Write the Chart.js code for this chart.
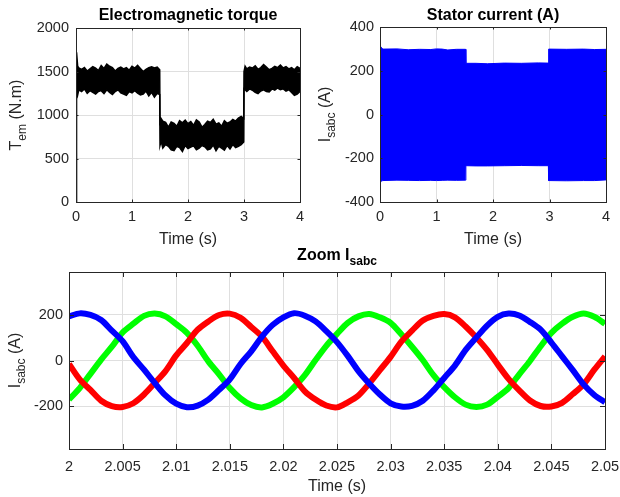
<!DOCTYPE html>
<html>
<head>
<meta charset="utf-8">
<script src="https://cdn.jsdelivr.net/npm/chart.js@4.4.0/dist/chart.umd.min.js"></script>
<style>
  body { margin: 0; background: #fff; width: 620px; height: 497px; position: relative; overflow: hidden; }
  canvas { position: absolute; }
</style>
</head>
<body>
<canvas id="torque-chart" width="310" height="250" style="left:0;top:0"></canvas>
<canvas id="current-chart" width="310" height="250" style="left:310px;top:0"></canvas>
<canvas id="zoom-chart" width="620" height="257" style="left:0;top:240px"></canvas>
<script>
// torque envelope (upper / lower edge of the noisy trace), N.m
const torqueTime = [0, 0.01, 0.03, 0.05, 0.1, 0.15, 0.2, 0.25, 0.3, 0.35, 0.4, 0.45, 0.5, 0.55, 0.6, 0.65, 0.7, 0.75, 0.8, 0.85, 0.9, 0.95, 1.0, 1.05, 1.1, 1.15, 1.2, 1.25, 1.3, 1.35, 1.4, 1.45, 1.495,
  1.5, 1.52, 1.55, 1.6, 1.65, 1.7, 1.75, 1.8, 1.85, 1.9, 1.95, 2.0, 2.05, 2.1, 2.15, 2.2, 2.25, 2.3, 2.35, 2.4, 2.45, 2.5, 2.55, 2.6, 2.65, 2.7, 2.75, 2.8, 2.85, 2.9, 2.95, 2.995,
  3.0, 3.02, 3.05, 3.1, 3.15, 3.2, 3.25, 3.3, 3.35, 3.4, 3.45, 3.5, 3.55, 3.6, 3.65, 3.7, 3.75, 3.8, 3.85, 3.9, 3.95, 4.0];
const torqueUpper = [1400, 1720, 1560, 1540, 1525, 1545, 1505, 1530, 1555, 1540, 1510, 1570, 1535, 1585, 1560, 1545, 1505, 1535, 1550, 1530, 1545, 1515, 1560, 1540, 1570, 1535, 1500, 1525, 1545, 1555, 1540, 1550, 1520,
  880, 960, 930, 915, 860, 920, 905, 870, 935, 910, 940, 900, 925, 880, 945, 920, 860, 890, 930, 915, 950, 895, 910, 870, 935, 905, 920, 950, 930, 965, 985, 960,
  1500, 1560, 1530, 1550, 1540, 1565, 1525, 1545, 1580, 1550, 1520, 1535, 1560, 1545, 1575, 1540, 1555, 1530, 1545, 1520, 1555, 1535];
const torqueLower = [0, 1300, 1230, 1290, 1270, 1300, 1250, 1280, 1260, 1240, 1270, 1280, 1245, 1290, 1260, 1235, 1270, 1290, 1255, 1240, 1225, 1270, 1255, 1280, 1250, 1230, 1240, 1275, 1220, 1260, 1205, 1250, 1235,
  650, 700, 620, 660, 640, 600, 590, 640, 625, 580, 650, 615, 630, 645, 600, 620, 650, 635, 600, 610, 655, 590, 640, 620, 595, 650, 610, 660, 625, 640, 660, 690,
  1300, 1290, 1270, 1300, 1285, 1260, 1245, 1275, 1290, 1270, 1265, 1300, 1285, 1310, 1290, 1300, 1275, 1290, 1260, 1225, 1240, 1270];

// stator current envelope over 0..4 s, A
const currentTime = [0, 0.01, 0.05, 0.3, 0.5, 0.7, 0.9, 1.0, 1.1, 1.2, 1.35, 1.515, 1.52, 1.7, 1.9, 2.2, 2.5, 2.8, 2.98, 2.985, 3.3, 3.6, 3.8, 4.0];
const currentUpper = [313, 310, 299, 300, 296, 298, 297, 300, 299, 295, 298, 298, 234, 234, 232, 235, 234, 236, 235, 299, 298, 299, 297, 298];
const currentLower = [-310, -306, -302, -300, -301, -302, -301, -302, -301, -300, -301, -300, -234, -235, -235, -234, -233, -234, -234, -302, -303, -302, -302, -299];

// zoom 2.00 .. 2.05 s, three phases
const zoomTime = [2.000, 2.001, 2.002, 2.003, 2.004, 2.005, 2.006, 2.007, 2.008, 2.009, 2.010, 2.011, 2.012, 2.013, 2.014, 2.015, 2.016, 2.017, 2.018, 2.019,
  2.020, 2.021, 2.022, 2.023, 2.024, 2.025, 2.026, 2.027, 2.028, 2.029, 2.030, 2.031, 2.032, 2.033, 2.034, 2.035, 2.036, 2.037, 2.038, 2.039,
  2.040, 2.041, 2.042, 2.043, 2.044, 2.045, 2.046, 2.047, 2.048, 2.049, 2.050];
const phaseA = [-15, -82, -128, -175, -198, -202, -186, -148, -98, -46, 22, 76, 134, 170, 198, 204, 186, 146, 104, 40,
  -22, -76, -134, -170, -196, -204, -182, -152, -100, -42, 16, 82, 130, 174, 194, 202, 188, 148, 100, 46,
  -18, -80, -130, -174, -198, -200, -184, -146, -104, -40, 18];
const phaseB = [-170, -120, -58, 4, 60, 122, 160, 194, 204, 192, 158, 120, 64, -4, -60, -120, -165, -194, -204, -188,
  -160, -116, -64, 2, 64, 116, 164, 192, 202, 188, 164, 114, 60, 2, -64, -116, -160, -192, -202, -192,
  -158, -120, -60, -2, 62, 120, 160, 190, 204, 190, 160];
const phaseC = [192, 205, 198, 176, 130, 84, 15, -40, -98, -152, -188, -203, -196, -170, -128, -82, -15, 40, 104, 155,
  188, 206, 195, 170, 128, 80, 20, -46, -100, -148, -186, -200, -197, -175, -130, -76, -22, 46, 100, 152,
  190, 204, 196, 168, 134, 78, 18, -42, -104, -150, -182];

// ticks
const fullTicksX = [0, 1, 2, 3, 4];
const fullLabelsX = ['0', '1', '2', '3', '4'];
const torqueTicksY = [0, 500, 1000, 1500, 2000];
const torqueLabelsY = ['0', '500', '1000', '1500', '2000'];
const currentTicksY = [-400, -200, 0, 200, 400];
const currentLabelsY = ['-400', '-200', '0', '200', '400'];
const zoomTicksX = [2, 2.005, 2.01, 2.015, 2.02, 2.025, 2.03, 2.035, 2.04, 2.045, 2.05];
const zoomLabelsX = ['2', '2.005', '2.01', '2.015', '2.02', '2.025', '2.03', '2.035', '2.04', '2.045', '2.05'];
const zoomTicksY = [-200, 0, 200];
const zoomLabelsY = ['-200', '0', '200'];

const FONT = "'Liberation Sans', Arial, Helvetica, sans-serif";
const AXIS = '#262626';
const GRID = '#dfdfdf';

// text with subscripts: parts = [[text, isSub], ...], x = centre, y = baseline
function drawRich(ctx, parts, x, y, size, bold) {
  const b = bold ? 'bold ' : '';
  let w = 0;
  parts.forEach(([t, sub]) => {
    ctx.font = b + (sub ? size * 0.75 : size) + 'px ' + FONT;
    w += ctx.measureText(t).width;
  });
  let cx = x - w / 2;
  parts.forEach(([t, sub]) => {
    ctx.font = b + (sub ? size * 0.75 : size) + 'px ' + FONT;
    ctx.fillText(t, cx, y + (sub ? size * 0.32 : 0));
    cx += ctx.measureText(t).width;
  });
}

// matlab style box, inward ticks, titles
const frame = {
  id: 'frame',
  afterDatasetsDraw(chart, args, o) {
    const { ctx, chartArea: a, scales } = chart;
    ctx.save();
    ctx.strokeStyle = AXIS;
    ctx.lineWidth = 1;
    ctx.beginPath();
    scales.x.ticks.forEach(t => {
      const px = Math.round(scales.x.getPixelForValue(t.value)) + 0.5;
      ctx.moveTo(px, a.bottom); ctx.lineTo(px, a.bottom - o.tickLen);
      ctx.moveTo(px, a.top); ctx.lineTo(px, a.top + o.tickLen);
    });
    scales.y.ticks.forEach(t => {
      const py = Math.round(scales.y.getPixelForValue(t.value)) + 0.5;
      ctx.moveTo(a.left, py); ctx.lineTo(a.left + o.tickLen, py);
      ctx.moveTo(a.right, py); ctx.lineTo(a.right - o.tickLen, py);
    });
    ctx.stroke();
    ctx.strokeRect(a.left + 0.5, a.top + 0.5, a.right - a.left, a.bottom - a.top);

    const cx = (a.left + a.right) / 2;
    ctx.textAlign = 'left';
    ctx.textBaseline = 'alphabetic';
    ctx.fillStyle = '#000';
    drawRich(ctx, o.title, cx, o.titleY, 16, true);
    ctx.fillStyle = AXIS;
    drawRich(ctx, [['Time (s)', false]], cx, o.xlabelY, 16, false);
    ctx.translate(o.ylabelX, (a.top + a.bottom) / 2);
    ctx.rotate(-Math.PI / 2);
    drawRich(ctx, o.ylabel, 0, 0, 16, false);
    ctx.restore();
  }
};

function makeScales(c) {
  return {
    x: {
      type: 'linear', min: c.xMin, max: c.xMax,
      afterBuildTicks: s => { s.ticks = c.xTicks.map(v => ({ value: v })); },
      afterFit: s => { s.height = c.xHeight; s.paddingLeft = 0; s.paddingRight = 0; },
      grid: { color: GRID, drawTicks: false },
      border: { color: AXIS },
      ticks: { color: AXIS, font: { family: FONT, size: 14.5 }, padding: c.xPad, maxRotation: 0, autoSkip: false,
        callback: (v, i) => c.xLabels[i] }
    },
    y: {
      type: 'linear', min: c.yMin, max: c.yMax,
      afterBuildTicks: s => { s.ticks = c.yTicks.map(v => ({ value: v })); },
      afterFit: s => { s.width = c.yWidth; s.paddingTop = 0; s.paddingBottom = 0; },
      grid: { color: GRID, drawTicks: false },
      border: { color: AXIS },
      ticks: { color: AXIS, font: { family: FONT, size: 14.5 }, padding: c.yPad, autoSkip: false,
        callback: (v, i) => c.yLabels[i] }
    }
  };
}

function pts(xs, ys) {
  return xs.map((x, i) => ({ x: x, y: ys[i] }));
}

const common = {
  responsive: false,
  animation: false,
  events: [],
  elements: { point: { radius: 0 }, line: { tension: 0 } }
};

// Electromagnetic torque
new Chart(document.getElementById('torque-chart'), {
  type: 'line',
  data: {
    datasets: [
      { data: pts(torqueTime, torqueUpper), borderColor: '#000', backgroundColor: '#000', borderWidth: 1.5, fill: '+1' },
      { data: pts(torqueTime, torqueLower), borderColor: '#000', borderWidth: 1.5, fill: false }
    ]
  },
  options: {
    ...common,
    layout: { padding: { top: 28, right: 10, left: 0, bottom: 0 } },
    scales: makeScales({ xMin: 0, xMax: 4, xTicks: fullTicksX, xLabels: fullLabelsX, xHeight: 48, xPad: 6,
      yMin: 0, yMax: 2000, yTicks: torqueTicksY, yLabels: torqueLabelsY, yWidth: 76, yPad: 7 }),
    plugins: {
      legend: { display: false },
      tooltip: { enabled: false },
      frame: { title: [['Electromagnetic torque', false]], titleY: 20, xlabelY: 244, ylabelX: 21, tickLen: 2.5,
        ylabel: [['T', false], ['em', true], [' (N.m)', false]] }
    }
  },
  plugins: [frame]
});

// Stator current
new Chart(document.getElementById('current-chart'), {
  type: 'line',
  data: {
    datasets: [
      { data: pts(currentTime, currentUpper), borderColor: '#0000ff', backgroundColor: '#0000ff', borderWidth: 1, fill: '+1' },
      { data: pts(currentTime, currentLower), borderColor: '#0000ff', borderWidth: 1, fill: false }
    ]
  },
  options: {
    ...common,
    layout: { padding: { top: 27, right: 14, left: 0, bottom: 0 } },
    scales: makeScales({ xMin: 0, xMax: 4, xTicks: fullTicksX, xLabels: fullLabelsX, xHeight: 48, xPad: 6,
      yMin: -400, yMax: 400, yTicks: currentTicksY, yLabels: currentLabelsY, yWidth: 70, yPad: 6 }),
    plugins: {
      legend: { display: false },
      tooltip: { enabled: false },
      frame: { title: [['Stator current (A)', false]], titleY: 20, xlabelY: 244, ylabelX: 20, tickLen: 2.5,
        ylabel: [['I', false], ['sabc', true], [' (A)', false]] }
    }
  },
  plugins: [frame]
});

// Zoom Isabc
new Chart(document.getElementById('zoom-chart'), {
  type: 'line',
  data: {
    datasets: [
      { label: 'c', data: pts(zoomTime, phaseC), borderColor: '#0000ff', borderWidth: 6, tension: 0.3, fill: false },
      { label: 'a', data: pts(zoomTime, phaseA), borderColor: '#ff0000', borderWidth: 6, tension: 0.3, fill: false },
      { label: 'b', data: pts(zoomTime, phaseB), borderColor: '#00ff00', borderWidth: 6, tension: 0.3, fill: false }
    ]
  },
  options: {
    ...common,
    layout: { padding: { top: 32, right: 15, left: 0, bottom: 0 } },
    scales: makeScales({ xMin: 2, xMax: 2.05, xTicks: zoomTicksX, xLabels: zoomLabelsX, xHeight: 48, xPad: 9,
      yMin: -385, yMax: 385, yTicks: zoomTicksY, yLabels: zoomLabelsY, yWidth: 69, yPad: 6 }),
    plugins: {
      legend: { display: false },
      tooltip: { enabled: false },
      frame: { title: [['Zoom I', false], ['sabc', true]], titleY: 20, xlabelY: 251, ylabelX: 20, tickLen: 5,
        ylabel: [['I', false], ['sabc', true], [' (A)', false]] }
    }
  },
  plugins: [frame]
});
</script>
</body>
</html>
